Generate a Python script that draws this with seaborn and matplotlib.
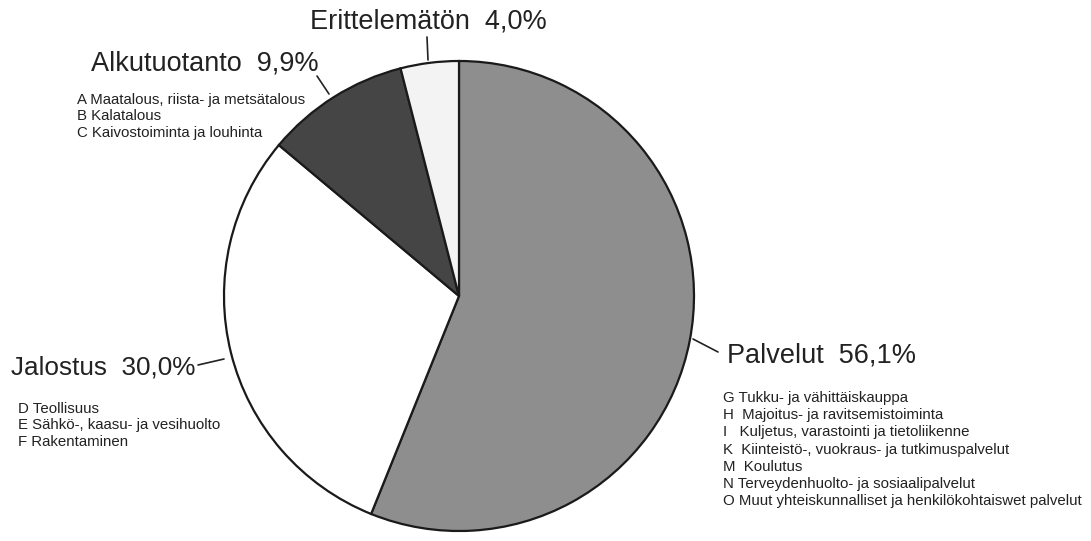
#For visualizing
import seaborn as sns
import matplotlib.pyplot as plt
from matplotlib.lines import Line2D

# data
sectors = ["Palvelut", "Jalostus", "Alkutuotanto", "Erittelemätön"]
shares = [56.1, 30.0, 9.9, 4.0]
share_labels = ["56,1%", "30,0%", "9,9%", "4,0%"]
colors = ["#8e8e8e", "#ffffff", "#454545", "#f3f3f3"]

alku_items = ["A Maatalous, riista- ja metsätalous",
              "B Kalatalous",
              "C Kaivostoiminta ja louhinta"]
jalostus_items = ["D Teollisuus",
                  "E Sähkö-, kaasu- ja vesihuolto",
                  "F Rakentaminen"]
palvelut_items = ["G Tukku- ja vähittäiskauppa",
                  "H  Majoitus- ja ravitsemistoiminta",
                  "I   Kuljetus, varastointi ja tietoliikenne",
                  "K  Kiinteistö-, vuokraus- ja tutkimuspalvelut",
                  "M  Koulutus",
                  "N Terveydenhuolto- ja sosiaalipalvelut",
                  "O Muut yhteiskunnalliset ja henkilökohtaiswet palvelut"]

sns.set_theme(style="white")
plt.rcParams['font.family'] = ['Liberation Sans', 'DejaVu Sans']

W, H = 1091, 541


def px(x, y):
    '''pixel position (top-left origin) -> figure fraction'''
    return x / W, 1 - y / H


fig = plt.figure(figsize=(W / 100, H / 100), dpi=100)
fig.patch.set_facecolor("white")

# pie centre (459, 296), radius 235 px
cx, cy, r = 459, 296, 235
ax = fig.add_axes([(cx - r) / W, (H - cy - r) / H, 2 * r / W, 2 * r / H])
ax.pie(shares, colors=colors, startangle=90, counterclock=False,
       wedgeprops=dict(edgecolor="#1a1a1a", linewidth=1.6))
ax.set_xlim(-1, 1)
ax.set_ylim(-1, 1)
ax.set_aspect("equal")
ax.axis("off")

big = 19.5
small = 10.8
txt_col = "#222222"

# headline labels
fig.text(*px(310, 22), sectors[3] + "  " + share_labels[3], fontsize=big,
         va="center", ha="left", color=txt_col)
fig.text(*px(91, 64), sectors[2] + "  " + share_labels[2], fontsize=big,
         va="center", ha="left", color=txt_col)
fig.text(*px(11, 367), sectors[1] + "  " + share_labels[1], fontsize=18.8,
         va="center", ha="left", color=txt_col)
fig.text(*px(727, 355), sectors[0] + "  " + share_labels[0], fontsize=big,
         va="center", ha="left", color=txt_col)

# sub items
for i, s in enumerate(alku_items):
    fig.text(*px(77, 100 + i * 16.5), s, fontsize=small, va="center", color=txt_col)
for i, s in enumerate(jalostus_items):
    fig.text(*px(18, 409 + i * 16.5), s, fontsize=small, va="center", color=txt_col)
for i, s in enumerate(palvelut_items):
    fig.text(*px(723, 398 + i * 17.2), s, fontsize=small, va="center", color=txt_col)

# leader lines
leaders = [((427, 37), (428, 60)),
           ((317, 76), (329, 94)),
           ((198, 365), (224, 359)),
           ((693, 339), (718, 352))]
for (x0, y0), (x1, y1) in leaders:
    a, b = px(x0, y0)
    c, d = px(x1, y1)
    fig.add_artist(Line2D([a, c], [b, d], color="#222222", linewidth=1.2))

plt.savefig("out.png", dpi=100)
